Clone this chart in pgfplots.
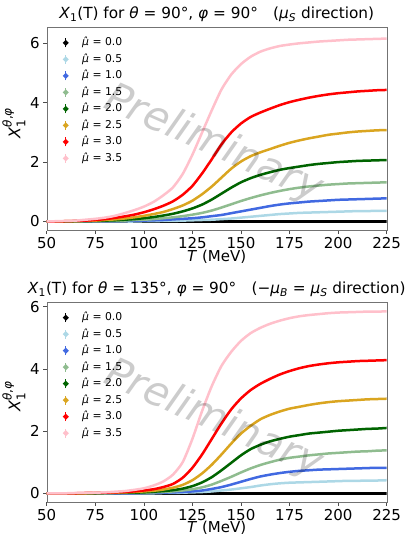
\documentclass[border=0pt]{standalone}
\usepackage{fontspec}
\setmainfont{DejaVu Sans}
\usepackage{pgfplots}
\usepackage{pgfplotstable}
\pgfplotsset{compat=1.18}
\definecolor{lblue}{HTML}{ADD8E6}
\definecolor{rblue}{HTML}{4169E1}
\definecolor{lgreen}{HTML}{8FBC8F}
\definecolor{dgreen}{HTML}{006400}
\definecolor{goldc}{HTML}{DAA520}
\definecolor{pinkc}{HTML}{FFC0CB}
\definecolor{redc}{HTML}{FF0000}

\pgfplotstableread{
T a b c d e f g h
50 0 0 0 0 0 0 0 0
55 0 0 0 0 0 0 0 0.01
60 0 0 0 0 0 0.01 0.01 0.02
65 0 0 0 0 0.01 0.01 0.02 0.03
70 0 0 0 0.01 0.01 0.02 0.03 0.06
75 0 0 0.01 0.01 0.02 0.03 0.05 0.09
80 0 0 0.01 0.02 0.03 0.05 0.08 0.13
85 0 0 0.01 0.02 0.04 0.07 0.12 0.19
90 0 0 0.02 0.03 0.06 0.10 0.17 0.28
95 0 0 0.02 0.05 0.08 0.14 0.23 0.38
100 0 0.01 0.03 0.06 0.11 0.19 0.31 0.50
105 0 0.01 0.04 0.08 0.15 0.25 0.41 0.66
110 0 0.02 0.05 0.11 0.20 0.32 0.53 0.88
115 0 0.02 0.07 0.14 0.26 0.42 0.68 1.15
120 0 0.03 0.09 0.18 0.34 0.54 0.90 1.60
125 0 0.04 0.11 0.23 0.44 0.70 1.20 2.25
130 0 0.05 0.14 0.29 0.57 0.92 1.62 3.00
135 0 0.06 0.18 0.37 0.74 1.18 2.10 3.75
140 0 0.08 0.22 0.47 0.94 1.48 2.60 4.45
145 0 0.10 0.28 0.58 1.14 1.78 3.00 4.95
150 0 0.13 0.34 0.69 1.32 2.02 3.30 5.30
155 0 0.16 0.40 0.79 1.46 2.20 3.52 5.55
160 0 0.19 0.46 0.88 1.57 2.33 3.67 5.72
165 0 0.22 0.52 0.96 1.66 2.44 3.80 5.83
170 0 0.25 0.57 1.03 1.74 2.55 3.92 5.91
175 0 0.27 0.61 1.09 1.80 2.65 4.02 5.96
180 0 0.29 0.64 1.14 1.85 2.73 4.10 6.00
185 0 0.30 0.67 1.18 1.90 2.80 4.17 6.03
190 0 0.31 0.69 1.21 1.94 2.86 4.23 6.06
195 0 0.32 0.71 1.24 1.97 2.92 4.28 6.08
200 0 0.33 0.73 1.26 2.00 2.96 4.32 6.10
205 0 0.34 0.74 1.28 2.02 3.00 4.35 6.12
210 0 0.35 0.75 1.29 2.04 3.03 4.38 6.13
215 0 0.35 0.76 1.30 2.05 3.05 4.40 6.14
220 0 0.36 0.77 1.31 2.06 3.07 4.42 6.15
225 0 0.36 0.78 1.32 2.07 3.08 4.43 6.16
}\toptable

\pgfplotstableread{
T a b c d e f g h
50 0 0 0 0 0 0 0 0
55 0 0 0 0 0 0 0 0
60 0 0 0 0 0 0 0 0
65 0 0 0 0 0 0 0 0.01
70 0 0 0 0 0 0 0.01 0.01
75 0 0 0 0 0 0.01 0.01 0.02
80 0 0 0 0 0.01 0.01 0.02 0.03
85 0 0 0 0.01 0.01 0.02 0.03 0.05
90 0 0 0 0.01 0.02 0.03 0.04 0.07
95 0 0 0 0.01 0.02 0.04 0.06 0.11
100 0 0 0.01 0.02 0.03 0.06 0.09 0.16
105 0 0 0.01 0.03 0.05 0.08 0.13 0.25
110 0 0.01 0.02 0.04 0.07 0.12 0.20 0.38
115 0 0.01 0.03 0.06 0.10 0.18 0.30 0.60
120 0 0.02 0.04 0.09 0.15 0.27 0.50 1.00
125 0 0.03 0.06 0.13 0.23 0.42 0.82 1.75
130 0 0.04 0.09 0.19 0.35 0.64 1.25 2.65
135 0 0.06 0.14 0.28 0.52 0.92 1.75 3.45
140 0 0.09 0.20 0.40 0.74 1.25 2.25 4.10
145 0 0.12 0.28 0.53 0.98 1.60 2.70 4.55
150 0 0.16 0.37 0.67 1.22 1.92 3.05 4.90
155 0 0.20 0.46 0.80 1.42 2.17 3.32 5.15
160 0 0.25 0.54 0.91 1.56 2.38 3.52 5.32
165 0 0.29 0.60 1.00 1.67 2.52 3.68 5.45
170 0 0.32 0.65 1.08 1.75 2.63 3.82 5.55
175 0 0.34 0.69 1.14 1.82 2.72 3.93 5.63
180 0 0.35 0.72 1.18 1.87 2.78 4.02 5.69
185 0 0.36 0.74 1.22 1.92 2.84 4.09 5.73
190 0 0.37 0.76 1.25 1.95 2.89 4.14 5.76
195 0 0.38 0.77 1.28 1.98 2.93 4.18 5.79
200 0 0.39 0.78 1.30 2.01 2.96 4.21 5.81
205 0 0.40 0.79 1.32 2.03 2.98 4.23 5.82
210 0 0.40 0.80 1.34 2.05 3.00 4.25 5.83
215 0 0.41 0.81 1.35 2.07 3.02 4.26 5.84
220 0 0.41 0.82 1.37 2.08 3.03 4.27 5.84
225 0 0.42 0.82 1.38 2.10 3.04 4.28 5.85
}\bottable

\pgfplotsset{
  myax/.style={
    scale only axis, width=340pt,
    xmin=50, xmax=225,
    xtick={50,75,...,225}, ytick={0,2,4,6},
    axis line style={black!55},
    tick style={black!70, line width=0.6pt},
    tick align=outside, major tick length=3.5pt,
    xtick pos=bottom, ytick pos=left,
    tick label style={font=\fontsize{15}{15}\selectfont},
    /pgf/number format/assume math mode=true,
    xlabel={\textit{T} (MeV)},
    ylabel={\textit{X}\rlap{\raisebox{0.55em}{\fontsize{12}{12}\selectfont\textit{θ},\textit{φ}}}\raisebox{-0.3em}{\fontsize{12}{12}\selectfont 1}},
    label style={font=\fontsize{16}{16}\selectfont},
    xlabel style={yshift=6pt, font=\fontsize{15}{15}\selectfont},
    ylabel style={yshift=-2pt},
    title style={font=\fontsize{15.3}{15}\selectfont, yshift=-4pt},
    legend cell align=left,
    legend style={draw=none, fill=none, at={(0.043,0.949)}, anchor=north west,
      font=\fontsize{10.8}{10.8}\selectfont, inner sep=0pt,
      nodes={inner sep=0pt, text height=8pt, text depth=2pt},
      row sep=6.5pt, column sep=12pt},
    legend image code/.code={
      \draw[#1, line width=0.8pt] (0pt,-4.5pt) -- (0pt,4.5pt);
      \fill[#1] (0pt,0pt) circle (1.3pt);
      \path (-3pt,0pt) (3pt,0pt);
    },
    every axis plot/.append style={line width=2.5pt, smooth, tension=0.4},
  }
}

\begin{document}
\begin{tikzpicture}
\path[use as bounding box] (0pt,0pt) rectangle (406pt,536pt);
\begin{axis}[myax, at={(46.7pt,305.3pt)}, anchor=south west, height=203.4pt,
  ymin=-0.31, ymax=6.54,
  title={\textit{X}\textsubscript{1}(T) for \textit{θ} = 90°, \textit{φ} = 90°\quad (\textit{μ}\textsubscript{\textit{S}} direction)}]
\addplot[black] table[x=T,y=a]{\toptable};
\addplot[lblue] table[x=T,y=b]{\toptable};
\addplot[rblue] table[x=T,y=c]{\toptable};
\addplot[lgreen] table[x=T,y=d]{\toptable};
\addplot[dgreen] table[x=T,y=e]{\toptable};
\addplot[goldc] table[x=T,y=f]{\toptable};
\addplot[redc] table[x=T,y=g]{\toptable};
\addplot[pinkc] table[x=T,y=h]{\toptable};
\legend{\textit{μ̂} = 0.0,\textit{μ̂} = 0.5,\textit{μ̂} = 1.0,\textit{μ̂} = 1.5,\textit{μ̂} = 2.0,\textit{μ̂} = 2.5,\textit{μ̂} = 3.0,\textit{μ̂} = 3.5}
\node[rotate=-24, font=\fontsize{41}{41}\selectfont\itshape, text=black, opacity=0.2] at (rel axis cs:0.49,0.425) {Preliminary};
\end{axis}
\begin{axis}[myax, at={(46.7pt,33.7pt)}, anchor=south west, height=200pt,
  ymin=-0.29, ymax=6.14,
  title={\textit{X}\textsubscript{1}(T) for \textit{θ} = 135°, \textit{φ} = 90°\quad (−\textit{μ}\textsubscript{\textit{B}} = \textit{μ}\textsubscript{\textit{S}} direction)}]
\addplot[black] table[x=T,y=a]{\bottable};
\addplot[lblue] table[x=T,y=b]{\bottable};
\addplot[rblue] table[x=T,y=c]{\bottable};
\addplot[lgreen] table[x=T,y=d]{\bottable};
\addplot[dgreen] table[x=T,y=e]{\bottable};
\addplot[goldc] table[x=T,y=f]{\bottable};
\addplot[redc] table[x=T,y=g]{\bottable};
\addplot[pinkc] table[x=T,y=h]{\bottable};
\legend{\textit{μ̂} = 0.0,\textit{μ̂} = 0.5,\textit{μ̂} = 1.0,\textit{μ̂} = 1.5,\textit{μ̂} = 2.0,\textit{μ̂} = 2.5,\textit{μ̂} = 3.0,\textit{μ̂} = 3.5}
\node[rotate=-24, font=\fontsize{41}{41}\selectfont\itshape, text=black, opacity=0.2] at (rel axis cs:0.49,0.415) {Preliminary};
\end{axis}
\end{tikzpicture}
\end{document}
